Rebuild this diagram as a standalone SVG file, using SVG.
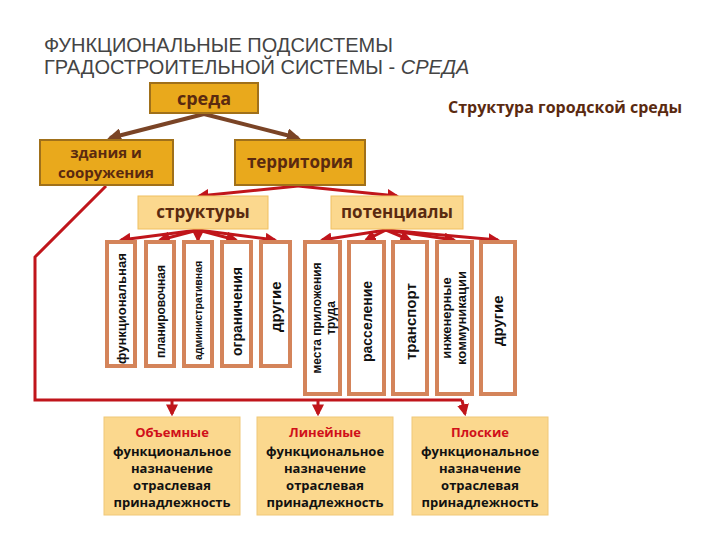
<svg xmlns="http://www.w3.org/2000/svg" width="720" height="540" viewBox="0 0 720 540">
<defs>
<style>
.t{font-family:"Open Sans","DejaVu Sans",sans-serif;font-weight:bold;fill:#5a2a10}
.dk{fill:#e9a91c;stroke:#a0701a;stroke-width:2}
.lt{fill:#fbd88e;stroke:#f0c060;stroke-width:1}
.v{fill:#fff;stroke:#d4845a;stroke-width:4}
.vt{font-family:"Liberation Sans",Arial,sans-serif;font-weight:bold;fill:#111}
.b{fill:#fbd88e;stroke:#f0c878;stroke-width:1}
.bt{font-family:"Open Sans","DejaVu Sans",sans-serif;font-weight:bold;font-size:13px;fill:#111;text-anchor:middle}
.r{stroke:#c0151b;stroke-width:3;fill:none}
.br{stroke:#7a4426;stroke-width:4;fill:none}
</style>
<marker id="ar" viewBox="0 0 10 10" refX="8" refY="5" markerWidth="4" markerHeight="4" orient="auto"><path d="M0,0L10,5L0,10z" fill="#c0151b"/></marker>
<marker id="ab" viewBox="0 0 10 10" refX="8" refY="5" markerWidth="3.5" markerHeight="3.5" orient="auto"><path d="M0,0L10,5L0,10z" fill="#7a4426"/></marker>
</defs>
<rect width="720" height="540" fill="#fff"/>
<g id="title" font-family="'Liberation Sans',Arial,sans-serif" font-size="20" fill="#444">
<text x="44" y="52">ФУНКЦИОНАЛЬНЫЕ ПОДСИСТЕМЫ</text>
<text x="44" y="74">ГРАДОСТРОИТЕЛЬНОЙ СИСТЕМЫ - <tspan font-style="italic">СРЕДА</tspan></text>
</g>
<text x="682" y="113" class="t" font-size="16" text-anchor="end">Структура городской среды</text>
<g id="connectors">
<path class="br" d="M204,114L110,138" marker-end="url(#ab)"/>
<path class="br" d="M204,114L298,138" marker-end="url(#ab)"/>
<path class="r" d="M298,186L199,196" marker-end="url(#ar)"/>
<path class="r" d="M298,186L397,196" marker-end="url(#ar)"/>
<g class="r" marker-end="url(#ar)">
<path d="M198,230L121,240"/><path d="M198,230L160,240"/><path d="M198,230L198,240"/><path d="M198,230L236,240"/><path d="M198,230L275,240"/>
<path d="M386,230L322,240"/><path d="M386,230L366,240"/><path d="M386,230L410,240"/><path d="M386,230L454,240"/><path d="M386,230L498,240"/>
</g>
<path class="r" d="M106,186L35,257L35,400L462,400"/>
<g class="r" marker-end="url(#ar)"><path d="M172,400L172,414"/><path d="M318,400L318,414"/><path d="M462,400L465,414"/></g>
</g>
<g id="sreda"><rect class="dk" x="150" y="83" width="108" height="30"/><text class="t" x="204" y="105" font-size="18" text-anchor="middle">среда</text></g>
<g id="zdania"><rect class="dk" x="40" y="140" width="133" height="45"/><text class="t" x="106" y="158" font-size="15" text-anchor="middle">здания и</text><text class="t" x="106" y="178" font-size="15" text-anchor="middle">сооружения</text></g>
<g id="territoria"><rect class="dk" x="235" y="140" width="130" height="45"/><text class="t" x="300" y="168" font-size="17" text-anchor="middle">территория</text></g>
<g id="struktury"><rect class="lt" x="138" y="196" width="130" height="33"/><text class="t" x="203" y="218" font-size="17" text-anchor="middle">структуры</text></g>
<g id="potencialy"><rect class="lt" x="331" y="196" width="132" height="33"/><text class="t" x="397" y="218" font-size="17" text-anchor="middle">потенциалы</text></g>
<g id="v1"><rect class="v" x="107" y="242" width="28" height="124"/><text class="vt" font-size="13" transform="translate(126,364) rotate(-90)">функциональная</text></g>
<g id="v2"><rect class="v" x="146" y="242" width="28" height="124"/><text class="vt" font-size="12" font-weight="normal" transform="translate(165,358) rotate(-90)">планировочная</text></g>
<g id="v3"><rect class="v" x="184" y="242" width="28" height="124"/><text class="vt" font-size="10.5" transform="translate(202,360) rotate(-90)">административная</text></g>
<g id="v4"><rect class="v" x="222" y="242" width="29" height="124"/><text class="vt" font-size="14" font-weight="normal" transform="translate(242,356) rotate(-90)">ограничения</text></g>
<g id="v5"><rect class="v" x="261" y="242" width="29" height="124"/><text class="vt" font-size="15" transform="translate(281,332) rotate(-90)">другие</text></g>
<g id="v6"><rect class="v" x="305" y="242" width="35" height="152"/><text class="vt" font-size="12" font-weight="normal" text-anchor="middle" transform="translate(325,318) rotate(-90)"><tspan x="0" y="-4">места приложения</tspan><tspan x="0" y="10">труда</tspan></text></g>
<g id="v7"><rect class="v" x="349" y="242" width="35" height="152"/><text class="vt" font-size="14" font-weight="normal" transform="translate(372,362) rotate(-90)">расселение</text></g>
<g id="v8"><rect class="v" x="393" y="242" width="34" height="152"/><text class="vt" font-size="15" font-weight="normal" transform="translate(416,360) rotate(-90)">транспорт</text></g>
<g id="v9"><rect class="v" x="437" y="242" width="35" height="152"/><text class="vt" font-size="13" font-weight="normal" text-anchor="middle" transform="translate(454,318) rotate(-90)"><tspan x="0" y="-3">инженерные</tspan><tspan x="0" y="12">коммуникации</tspan></text></g>
<g id="v10"><rect class="v" x="481" y="242" width="34" height="152"/><text class="vt" font-size="15" transform="translate(503,346) rotate(-90)">другие</text></g>
<g id="b1"><rect class="b" x="104" y="417" width="136" height="98"/><text class="bt" x="172" y="437" style="fill:#d0101a">Объемные</text><text class="bt" x="172" y="456">функциональное</text><text class="bt" x="172" y="473">назначение</text><text class="bt" x="172" y="490">отраслевая</text><text class="bt" x="172" y="507">принадлежность</text></g>
<g id="b2"><rect class="b" x="257" y="417" width="136" height="98"/><text class="bt" x="325" y="437" style="fill:#d0101a">Линейные</text><text class="bt" x="325" y="456">функциональное</text><text class="bt" x="325" y="473">назначение</text><text class="bt" x="325" y="490">отраслевая</text><text class="bt" x="325" y="507">принадлежность</text></g>
<g id="b3"><rect class="b" x="412" y="417" width="136" height="98"/><text class="bt" x="480" y="437" style="fill:#d0101a">Плоские</text><text class="bt" x="480" y="456">функциональное</text><text class="bt" x="480" y="473">назначение</text><text class="bt" x="480" y="490">отраслевая</text><text class="bt" x="480" y="507">принадлежность</text></g>
</svg>
